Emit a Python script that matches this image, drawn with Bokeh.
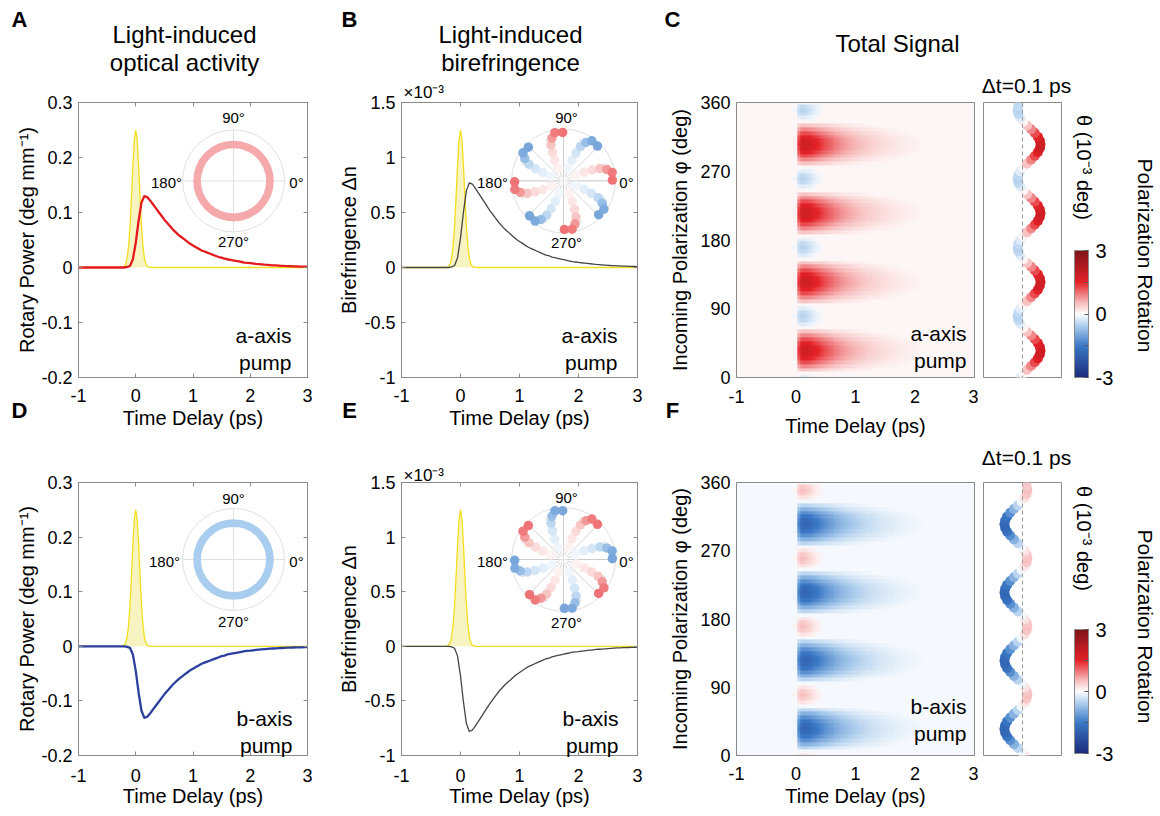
import numpy as np
from bokeh.plotting import figure
from bokeh.models import (Range1d, LinearAxis, FixedTicker, Label, LinearColorMapper,
                          ColorBar, Span, ColumnDataSource)
from bokeh.layouts import row, column
from bokeh.embed import file_html
from bokeh.resources import INLINE

FONT = "Liberation Sans"
AXC = "#8a8a8a"
PAGE_W, PAGE_H = 1158, 814
ROW1_H = 450

# ---------------------------------------------------------------- data
time_ps = [-1.00, -0.95, -0.90, -0.85, -0.80, -0.75, -0.70, -0.65, -0.60, -0.55,
           -0.50, -0.45, -0.40, -0.35, -0.30, -0.25, -0.20, -0.15, -0.10, -0.05,
           0.00, 0.05, 0.10, 0.15, 0.20, 0.25, 0.30, 0.35, 0.40, 0.45,
           0.50, 0.55, 0.60, 0.65, 0.70, 0.75, 0.80, 0.85, 0.90, 0.95,
           1.00, 1.05, 1.10, 1.15, 1.20, 1.25, 1.30, 1.35, 1.40, 1.45,
           1.50, 1.55, 1.60, 1.65, 1.70, 1.75, 1.80, 1.85, 1.90, 1.95,
           2.00, 2.05, 2.10, 2.15, 2.20, 2.25, 2.30, 2.35, 2.40, 2.45,
           2.50, 2.55, 2.60, 2.65, 2.70, 2.75, 2.80, 2.85, 2.90, 2.95, 3.00]

# rotary power (deg/mm), a-axis pump
rotary_a = [0.0] * 17 + [
    0.001, 0.003, 0.015, 0.045, 0.085, 0.118, 0.130, 0.128, 0.122, 0.115,
    0.108, 0.101, 0.094, 0.087, 0.081, 0.075, 0.069, 0.064, 0.059, 0.055,
    0.051, 0.047, 0.043, 0.040, 0.037, 0.034, 0.031, 0.029, 0.027, 0.025,
    0.023, 0.021, 0.019, 0.018, 0.016, 0.015, 0.014, 0.013, 0.012, 0.011,
    0.010, 0.009, 0.0085, 0.008, 0.0073, 0.0067, 0.0062, 0.0057, 0.0052, 0.0048,
    0.0044, 0.0040, 0.0037, 0.0034, 0.0031, 0.0028, 0.0026, 0.0024, 0.0022, 0.0020,
    0.0018, 0.0017, 0.0015, 0.0014]
# rotary power (deg/mm), b-axis pump
rotary_b = [0.0] * 17 + [
    -0.001, -0.003, -0.015, -0.045, -0.085, -0.118, -0.131, -0.129, -0.123, -0.116,
    -0.109, -0.102, -0.095, -0.088, -0.082, -0.076, -0.070, -0.065, -0.060, -0.056,
    -0.052, -0.048, -0.044, -0.041, -0.038, -0.035, -0.032, -0.030, -0.028, -0.026,
    -0.024, -0.022, -0.020, -0.018, -0.017, -0.015, -0.014, -0.013, -0.012, -0.011,
    -0.010, -0.009, -0.0085, -0.008, -0.0073, -0.0067, -0.0062, -0.0057, -0.0052, -0.0048,
    -0.0044, -0.0040, -0.0037, -0.0034, -0.0031, -0.0028, -0.0026, -0.0024, -0.0022, -0.0020,
    -0.0018, -0.0017, -0.0015, -0.0014]
# birefringence (x1e-3), a-axis pump
biref_a = [0.0] * 17 + [
    0.006, 0.018, 0.089, 0.267, 0.503, 0.699, 0.770, 0.758, 0.722, 0.681,
    0.640, 0.598, 0.557, 0.515, 0.480, 0.444, 0.409, 0.379, 0.349, 0.326,
    0.302, 0.278, 0.255, 0.237, 0.219, 0.201, 0.184, 0.172, 0.160, 0.148,
    0.136, 0.124, 0.113, 0.107, 0.095, 0.089, 0.083, 0.077, 0.071, 0.065,
    0.059, 0.053, 0.050, 0.047, 0.043, 0.040, 0.037, 0.034, 0.031, 0.028,
    0.026, 0.024, 0.022, 0.020, 0.018, 0.017, 0.015, 0.014, 0.013, 0.012,
    0.011, 0.010, 0.009, 0.008]
# birefringence (x1e-3), b-axis pump
biref_b = [0.0] * 17 + [
    -0.006, -0.018, -0.090, -0.270, -0.510, -0.708, -0.780, -0.768, -0.731, -0.690,
    -0.648, -0.606, -0.564, -0.522, -0.486, -0.450, -0.414, -0.384, -0.354, -0.330,
    -0.306, -0.282, -0.258, -0.240, -0.222, -0.204, -0.186, -0.174, -0.162, -0.150,
    -0.138, -0.126, -0.114, -0.108, -0.096, -0.090, -0.084, -0.078, -0.072, -0.066,
    -0.060, -0.054, -0.051, -0.048, -0.044, -0.041, -0.038, -0.035, -0.032, -0.029,
    -0.027, -0.025, -0.023, -0.021, -0.019, -0.017, -0.015, -0.014, -0.013, -0.012,
    -0.011, -0.010, -0.009, -0.008]

# pump pulse (yellow)
pulse_t = [-1.0, -0.3, -0.275, -0.25, -0.225, -0.2, -0.175, -0.15, -0.125, -0.1,
           -0.075, -0.05, -0.025, 0.0, 0.025, 0.05, 0.075, 0.1, 0.125, 0.15,
           0.175, 0.2, 0.225, 0.25, 0.275, 0.3, 3.0]
pulse_rot = [0, 0, 0, 0.0001, 0.0006, 0.0022, 0.0067, 0.0175, 0.0393, 0.0766,
             0.128, 0.186, 0.232, 0.250, 0.232, 0.186, 0.128, 0.0766, 0.0393, 0.0175,
             0.0067, 0.0022, 0.0006, 0.0001, 0, 0, 0]
pulse_bir = [0, 0, 0, 0.0005, 0.003, 0.011, 0.034, 0.088, 0.197, 0.383,
             0.64, 0.93, 1.16, 1.25, 1.16, 0.93, 0.64, 0.383, 0.197, 0.088,
             0.034, 0.011, 0.003, 0.0005, 0, 0, 0]

# heat-map time profiles (relative), read from panels C / F on the time_ps grid:
# lobes with the sign of the optical activity decay slowly, opposite lobes quickly
heat_slow = [0.0] * 19 + [0.06, 0.06,
    0.75, 0.97, 1.0, 0.98, 0.94, 0.88, 0.83, 0.78, 0.72, 0.67,
    0.62, 0.58, 0.53, 0.49, 0.45, 0.42, 0.39, 0.36, 0.33, 0.31,
    0.28, 0.26, 0.24, 0.22, 0.21, 0.19, 0.18, 0.16, 0.15, 0.14,
    0.13, 0.12, 0.11, 0.10, 0.093, 0.086, 0.079, 0.073, 0.067, 0.062,
    0.057, 0.052, 0.048, 0.044, 0.041, 0.037, 0.034, 0.031, 0.029, 0.026,
    0.024, 0.022, 0.020, 0.019, 0.017, 0.016, 0.015, 0.013, 0.012, 0.011]
heat_fast = [0.0] * 19 + [0.2, 0.2,
    0.8, 1.0, 0.95, 0.8, 0.62, 0.45, 0.32, 0.22, 0.14, 0.09,
    0.05, 0.03, 0.015] + [0.0] * 47

# incoming polarization angle (deg) and rotation at dt = 0.1 ps (1e-3 deg)
phi_deg = [0, 5, 10, 15, 20, 25, 30, 35, 40, 45, 50, 55, 60, 65, 70, 75, 80, 85,
           90, 95, 100, 105, 110, 115, 120, 125, 130, 135, 140, 145, 150, 155, 160, 165, 170, 175,
           180, 185, 190, 195, 200, 205, 210, 215, 220, 225, 230, 235, 240, 245, 250, 255, 260, 265,
           270, 275, 280, 285, 290, 295, 300, 305, 310, 315, 320, 325, 330, 335, 340, 345, 350, 355]
theta_a = [-0.23, 0.09, 0.47, 0.88, 1.26, 1.58, 1.78, 1.85, 1.78, 1.58, 1.26, 0.88, 0.47, 0.09, -0.23, -0.43, -0.50, -0.43,
           -0.23, 0.09, 0.47, 0.88, 1.26, 1.58, 1.78, 1.85, 1.78, 1.58, 1.26, 0.88, 0.47, 0.09, -0.23, -0.43, -0.50, -0.43,
           -0.23, 0.09, 0.47, 0.88, 1.26, 1.58, 1.78, 1.85, 1.78, 1.58, 1.26, 0.88, 0.47, 0.09, -0.23, -0.43, -0.50, -0.43,
           -0.23, 0.09, 0.47, 0.88, 1.26, 1.58, 1.78, 1.85, 1.78, 1.58, 1.26, 0.88, 0.47, 0.09, -0.23, -0.43, -0.50, -0.43]
theta_b = [0.23, -0.09, -0.47, -0.88, -1.26, -1.58, -1.78, -1.85, -1.78, -1.58, -1.26, -0.88, -0.47, -0.09, 0.23, 0.43, 0.50, 0.43,
           0.23, -0.09, -0.47, -0.88, -1.26, -1.58, -1.78, -1.85, -1.78, -1.58, -1.26, -0.88, -0.47, -0.09, 0.23, 0.43, 0.50, 0.43,
           0.23, -0.09, -0.47, -0.88, -1.26, -1.58, -1.78, -1.85, -1.78, -1.58, -1.26, -0.88, -0.47, -0.09, 0.23, 0.43, 0.50, 0.43,
           0.23, -0.09, -0.47, -0.88, -1.26, -1.58, -1.78, -1.85, -1.78, -1.58, -1.26, -0.88, -0.47, -0.09, 0.23, 0.43, 0.50, 0.43]

# optical-activity polar inset: ring radii (fraction of polar radius)
ring_inner = 0.64
ring_outer = 0.79

# birefringence polar inset: arms of dots
arm_angle = [15, 60, 105, 150, 195, 240, 285, 330]
arm_sign_a = [1, -1, 1, -1, 1, -1, 1, -1]
arm_sign_b = [-1, 1, -1, 1, -1, 1, -1, 1]
arm_r = [0.26, 0.43, 0.59, 0.74, 0.86, 0.95, 0.94]
arm_dang = [10, 8, 6, 4, 0, -5, -14]
arm_val = [0.1, 0.2, 0.3, 0.45, 0.75, 0.95, 1.0]
spoke_angle = [0, 22.5, 45, 67.5, 90, 112.5, 135, 157.5, 180, 202.5, 225, 247.5, 270, 292.5, 315, 337.5]

# ticks
time_ticks = [-1, 0, 1, 2, 3]
time_labels = ["-1", "0", "1", "2", "3"]
rot_ticks = [-0.2, -0.1, 0, 0.1, 0.2, 0.3]
rot_labels = ["-0.2", "-0.1", "0", "0.1", "0.2", "0.3"]
bir_ticks = [-1, -0.5, 0, 0.5, 1, 1.5]
bir_labels = ["-1", "-0.5", "0", "0.5", "1", "1.5"]
phi_ticks = [0, 90, 180, 270, 360]
phi_labels = ["0", "90", "180", "270", "360"]
cb_ticks = [-3, -1.5, 0, 1.5, 3]
cb_labels = ["-3", "", "0", "", "3"]

# colormap anchors
cmap_v = [-3, -1.5, -0.6, 0, 0.6, 1.5, 3]
cmap_c = ["#1c2a78", "#3a78c6", "#a9cbec", "#ffffff", "#f6b3b3", "#e52228", "#7c1417"]


def hex2rgb(h):
    return [int(h[i:i + 2], 16) for i in (1, 3, 5)]


palette = []
for k in range(256):
    v = -3 + (k + 0.5) * 6 / 256
    rgb = [np.interp(v, cmap_v, [hex2rgb(c)[i] for c in cmap_c]) for i in range(3)]
    palette.append("#%02x%02x%02x" % tuple(int(round(x)) for x in rgb))
mapper = LinearColorMapper(palette=palette, low=-3, high=3)
# heat-map mapper: the faintest bins let the panel tint show through
heat_palette = list(palette)
for k in range(124, 132):
    heat_palette[k] = "#ffffff00"
heat_mapper = LinearColorMapper(palette=heat_palette, low=-3, high=3)


# ---------------------------------------------------------------- helpers
class Panel:
    def __init__(self, fx0, fy0, W, H, frame, xr, yr, axes=True, bg="white"):
        L, R, T, B = frame
        p = figure(width=W, height=H, x_range=Range1d(*xr), y_range=Range1d(*yr),
                   output_backend="svg", toolbar_location=None,
                   x_axis_location="below" if axes else None,
                   y_axis_location="left" if axes else None,
                   min_border_left=L - fx0, min_border_right=fx0 + W - R,
                   min_border_top=T - fy0, min_border_bottom=fy0 + H - B)
        p.grid.visible = False
        p.outline_line_color = AXC
        p.outline_line_width = 1
        p.background_fill_color = bg
        p.border_fill_color = "white"
        self.p, self.frame, self.xr, self.yr = p, frame, xr, yr

    def polar(self, name, cx, cy, rad):
        L, R, T, B = self.frame
        xn, yn = name + "_x", name + "_y"
        ex = dict(self.p.extra_x_ranges)
        ey = dict(self.p.extra_y_ranges)
        ex[xn] = Range1d((L - cx) / rad, (R - cx) / rad)
        ey[yn] = Range1d((cy - B) / rad, (cy - T) / rad)
        self.p.extra_x_ranges = ex
        self.p.extra_y_ranges = ey
        kw = dict(x_range_name=xn, y_range_name=yn)
        self.p.circle(x=[0], y=[0], radius=1, fill_color=None, line_color="#e0e0e0",
                      line_width=1, **kw)
        self.p.segment(x0=[-1, 0], y0=[0, -1], x1=[1, 0], y1=[0, 1],
                       line_color="#e0e0e0", line_width=1, **kw)
        return kw


def style_axis(ax, ticks, labels, title, lab_standoff, title_standoff, show_ticks=True):
    ax.ticker = FixedTicker(ticks=ticks)
    ax.major_label_overrides = {t: l for t, l in zip(ticks, labels)}
    ax.axis_label = title
    ax.axis_label_text_font = FONT
    ax.axis_label_text_font_size = "20px"
    ax.axis_label_text_font_style = "normal"
    ax.axis_label_text_color = "black"
    ax.axis_label_standoff = title_standoff
    ax.major_label_text_font = FONT
    ax.major_label_text_font_size = "18px"
    ax.major_label_text_color = "black"
    ax.major_label_standoff = lab_standoff
    ax.major_tick_in = 4
    ax.major_tick_out = 0
    ax.minor_tick_line_color = None
    ax.axis_line_color = AXC
    ax.major_tick_line_color = AXC if show_ticks else None


def mirror_axes(p, xticks, yticks):
    for loc, tk in (("above", xticks), ("right", yticks)):
        ax = LinearAxis(ticker=FixedTicker(ticks=tk),
                        major_label_overrides={t: "" for t in tk},
                        major_label_text_font_size="0px", major_label_standoff=0,
                        major_tick_in=4, major_tick_out=0, minor_tick_line_color=None,
                        axis_line_color=AXC, major_tick_line_color=AXC)
        p.add_layout(ax, loc)


def line_panel(P, pulse, curve, color, width, yticks, ylabels, ylabel, y_std, x_lab_std, x_std):
    p = P.p
    style_axis(p.below[0], time_ticks, time_labels, "Time Delay (ps)", x_lab_std, x_std)
    style_axis(p.left[0], yticks, ylabels, ylabel, 6, y_std)
    mirror_axes(p, time_ticks, yticks)
    p.varea(x=pulse_t, y1=0, y2=pulse, fill_color="#f8f4c2", fill_alpha=1)
    p.line(pulse_t, pulse, line_color="#f2de1c", line_width=1.3)
    p.line(time_ps, curve, line_color=color, line_width=width)


def ring_inset(P, name, cx, cy, rad, color):
    kw = P.polar(name, cx, cy, rad)
    P.p.annulus(x=[0], y=[0], inner_radius=ring_inner, outer_radius=ring_outer,
                fill_color=color, line_color=None, **kw)


def arm_inset(P, name, cx, cy, rad, signs):
    kw = P.polar(name, cx, cy, rad)
    sa = np.radians(spoke_angle)
    P.p.segment(x0=0.08 * np.cos(sa), y0=0.08 * np.sin(sa), x1=0.88 * np.cos(sa),
                y1=0.88 * np.sin(sa), line_color="#c4c4c4", line_width=0.7, **kw)
    xs, ys, vs = [], [], []
    for ang, sg in zip(arm_angle, signs):
        for r, da, v in zip(arm_r, arm_dang, arm_val):
            a = np.radians(ang + da)
            xs.append(r * np.cos(a))
            ys.append(r * np.sin(a))
            vs.append(sg * v)
    src = ColumnDataSource(dict(x=xs, y=ys, v=vs))
    P.p.scatter(x="x", y="y", source=src, size=9.5,
                fill_color={"field": "v", "transform": mapper}, line_color=None, **kw)


def heat_panel(P, theta, slow_sign, x_lab_std, x_std):
    p = P.p
    style_axis(p.below[0], time_ticks, time_labels, "Time Delay (ps)", x_lab_std, x_std,
               show_ticks=False)
    style_axis(p.left[0], phi_ticks, phi_labels, "Incoming Polarization φ (deg)", 6, 6,
               show_ticks=False)
    th = np.array(theta)
    z = np.where((th * slow_sign > 0)[:, None],
                 np.outer(th, heat_slow), np.outer(th, heat_fast))
    p.image(image=[z], x=-1.025, y=-2.5, dw=4.05, dh=360, color_mapper=heat_mapper)


def side_panel(P, theta, cb_y, cb_h):
    p = P.p
    p.add_layout(Span(location=0, dimension="height", line_color="#9a9a9a",
                      line_dash="4 3", line_width=1))
    src = ColumnDataSource(dict(x=theta, y=phi_deg, v=theta))
    p.scatter(x="x", y="y", source=src, size=10,
              fill_color={"field": "v", "transform": mapper}, line_color=None)
    cb = ColorBar(color_mapper=mapper, orientation="vertical", width=14, height=cb_h,
                  location=(91, cb_y), padding=0, margin=0,
                  ticker=FixedTicker(ticks=cb_ticks),
                  major_label_overrides={t: l for t, l in zip(cb_ticks, cb_labels)},
                  major_label_text_font=FONT, major_label_text_font_size="20px",
                  major_label_text_color="black", label_standoff=7,
                  major_tick_in=4, major_tick_out=0, major_tick_line_color="#555555",
                  minor_tick_line_color=None, bar_line_color="#8a8a8a",
                  border_line_color=None, background_fill_alpha=0)
    p.add_layout(cb)


# ---------------------------------------------------------------- text overlay (page pixels)
ov = figure(width=PAGE_W, height=PAGE_H, x_range=Range1d(0, PAGE_W), y_range=Range1d(0, PAGE_H),
            output_backend="svg", toolbar_location=None, min_border=0,
            x_axis_location=None, y_axis_location=None)
ov.grid.visible = False
ov.outline_line_color = None
ov.background_fill_alpha = 0
ov.border_fill_alpha = 0
ov.styles = {"position": "absolute", "top": "0px", "left": "0px", "pointer-events": "none",
             "z-index": "10"}


def txt(px, py, s, size, bold=False, align="center", angle=0.0):
    ov.add_layout(Label(x=px, y=PAGE_H - py, text=s, text_font=FONT,
                        text_font_size=f"{size}px",
                        text_font_style="bold" if bold else "normal",
                        text_align=align, text_baseline="middle", angle=angle,
                        text_color="black"))


def polar_labels(pts):
    for (px, py), t in zip(pts, ["90°", "180°", "0°", "270°"]):
        txt(px, py, t, 15)


R2 = PAGE_H - ROW1_H

# ---------------------------------------------------------------- row 1
pA = Panel(0, 0, 330, ROW1_H, (78, 307, 100, 377), (-1, 3), (-0.2, 0.3))
line_panel(pA, pulse_rot, rotary_a, "#e31b1f", 2.3, rot_ticks, rot_labels,
           "Rotary Power (deg mm⁻¹)", 0, 11, 2)
ring_inset(pA, "polA", 233, 179, 51, "#f5a9ab")

pB = Panel(330, 0, 320, ROW1_H, (401, 637, 100, 377), (-1, 3), (-1, 1.5))
line_panel(pB, pulse_bir, biref_a, "#454545", 1.3, bir_ticks, bir_labels,
           "Birefringence Δn", 1, 11, 2)
arm_inset(pB, "polB", 563, 179, 52, arm_sign_a)

pC = Panel(650, 0, 328, ROW1_H, (736, 974, 102, 382), (-1, 3), (0, 360), bg="#fdf6f6")
heat_panel(pC, theta_a, 1, 12, 9)

pCs = Panel(978, 0, 180, ROW1_H, (983, 1061, 102, 382), (-4, 4), (0, 360), axes=False)
side_panel(pCs, theta_a, 0, 127)

# ---------------------------------------------------------------- row 2
pD = Panel(0, ROW1_H, 330, R2, (78, 307, 482, 755), (-1, 3), (-0.2, 0.3))
line_panel(pD, pulse_rot, rotary_b, "#2b3f9e", 2.3, rot_ticks, rot_labels,
           "Rotary Power (deg mm⁻¹)", 0, 13, 0)
ring_inset(pD, "polD", 233, 559, 51, "#a9cdee")

pE = Panel(330, ROW1_H, 320, R2, (401, 637, 482, 755), (-1, 3), (-1, 1.5))
line_panel(pE, pulse_bir, biref_b, "#454545", 1.3, bir_ticks, bir_labels,
           "Birefringence Δn", 1, 13, 0)
arm_inset(pE, "polE", 563, 559, 52, arm_sign_b)

pF = Panel(650, ROW1_H, 328, R2, (736, 974, 475, 756), (-1, 3), (0, 360), bg="#f5f8fc")
heat_panel(pF, theta_b, -1, 11, 2)

pFs = Panel(978, ROW1_H, 180, R2, (983, 1061, 475, 755), (-4, 4), (0, 360), axes=False)
side_panel(pFs, theta_b, 2, 124)

# ---------------------------------------------------------------- texts
for s, x, y in (("A", 19, 19), ("B", 349, 19), ("C", 672, 19),
                ("D", 19, 410), ("E", 349, 410), ("F", 672, 410)):
    txt(x, y, s, 22, bold=True)
txt(184, 34, "Light-induced", 24)
txt(184, 62, "optical activity", 24)
txt(510, 34, "Light-induced", 24)
txt(510, 62, "birefringence", 24)
txt(897, 43, "Total Signal", 24)
txt(403, 92, "×10⁻³", 17, align="left")
txt(403, 475, "×10⁻³", 17, align="left")
for y in (85, 457):
    txt(1026, y, "Δt=0.1 ps", 21)
for y1, y2 in ((167, 255), (538, 626)):
    txt(1083, y1, "θ (10⁻³ deg)", 20, angle=-np.pi / 2)
    txt(1145, y2, "Polarization Rotation", 21, angle=-np.pi / 2)
for x, y1, y2, w in ((291, 335, 362, "a-axis"), (617, 335, 362, "a-axis"), (966, 333, 360, "a-axis"),
                     (292, 718, 745, "b-axis"), (618, 718, 745, "b-axis"), (966, 706, 733, "b-axis")):
    txt(x, y1, w, 21, align="right")
    txt(x, y2, "pump", 21, align="right")
polar_labels([(233, 117), (166, 182), (296, 182), (233, 241)])
polar_labels([(566, 117), (492, 182), (626, 182), (566, 242)])
polar_labels([(233, 498), (164, 561), (296, 561), (233, 621)])
polar_labels([(566, 497), (492, 561), (626, 561), (566, 622)])

layout = column(row(pA.p, pB.p, pC.p, pCs.p), row(pD.p, pE.p, pF.p, pFs.p), ov)

with open("out.html", "w") as f:
    f.write(file_html(layout, INLINE))
